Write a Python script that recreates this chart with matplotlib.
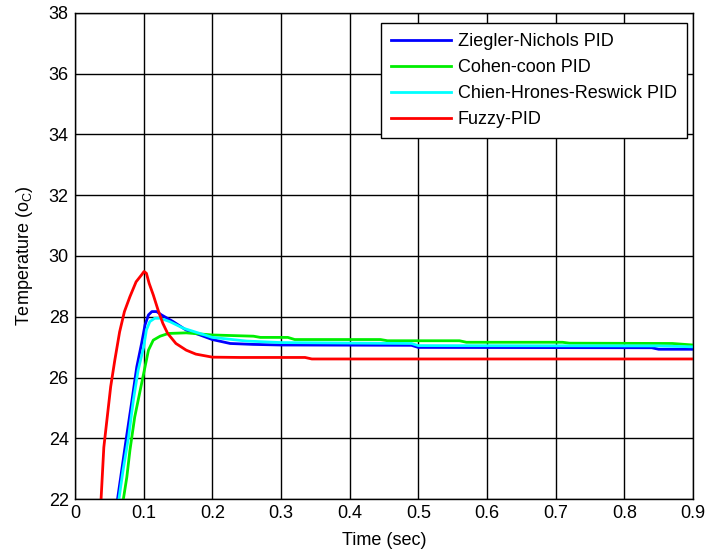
import matplotlib
matplotlib.use("Agg")
import matplotlib.pyplot as plt

plt.rcParams['font.family'] = ['Liberation Sans', 'DejaVu Sans']
plt.rcParams['mathtext.default'] = 'regular'

# Ziegler-Nichols PID
t_zn = [0.060, 0.062, 0.068, 0.075, 0.083, 0.090, 0.097, 0.102, 0.107, 0.112, 0.119,
        0.126, 0.143, 0.162, 0.182, 0.200, 0.226, 0.259, 0.300, 0.49, 0.50, 0.84, 0.85, 0.90]
y_zn = [21.5, 22.0, 22.94, 24.04, 25.25, 26.35, 27.12, 27.73, 28.06, 28.17, 28.17,
        28.06, 27.84, 27.56, 27.40, 27.25, 27.12, 27.09, 27.07, 27.06, 26.99, 26.98, 26.93, 26.93]

# Cohen-coon PID
t_cc = [0.069, 0.0705, 0.0755, 0.080, 0.087, 0.095, 0.102, 0.107, 0.114, 0.124, 0.136,
        0.162, 0.200, 0.260, 0.270, 0.310, 0.320, 0.445, 0.455, 0.56, 0.57, 0.71, 0.72,
        0.87, 0.90]
y_cc = [21.5, 22.0, 22.72, 23.6, 24.7, 25.58, 26.35, 26.9, 27.23, 27.36, 27.45,
        27.47, 27.40, 27.36, 27.32, 27.32, 27.25, 27.25, 27.21, 27.21, 27.16, 27.16, 27.13,
        27.12, 27.07]

# Chien-Hrones-Reswick PID
t_chr = [0.062, 0.064, 0.070, 0.078, 0.085, 0.092, 0.100, 0.104, 0.109, 0.116, 0.124,
         0.138, 0.158, 0.182, 0.200, 0.250, 0.300, 0.49, 0.50, 0.85, 0.90]
y_chr = [21.5, 22.0, 22.94, 24.04, 25.25, 26.24, 27.0, 27.56, 27.84, 27.95, 27.95,
         27.84, 27.62, 27.45, 27.32, 27.2, 27.15, 27.12, 27.05, 27.04, 27.01]

# Fuzzy-PID
t_fz = [0.036, 0.038, 0.042, 0.052, 0.058, 0.065, 0.072, 0.080, 0.089, 0.097, 0.1006,
        0.104, 0.108, 0.114, 0.121, 0.128, 0.135, 0.147, 0.162, 0.176, 0.200, 0.240,
        0.300, 0.335, 0.345, 0.900]
y_fz = [21.5, 22.0, 23.7, 25.7, 26.57, 27.5, 28.17, 28.66, 29.15, 29.38, 29.49,
        29.43, 29.1, 28.72, 28.22, 27.78, 27.45, 27.12, 26.9, 26.77, 26.67, 26.66,
        26.66, 26.66, 26.61, 26.61]

labels = ['Ziegler-Nichols PID', 'Cohen-coon PID', 'Chien-Hrones-Reswick PID', 'Fuzzy-PID']
colors = ['#0000ff', '#00ee00', '#00ffff', '#ff0000']
x_ticks = [0, 0.1, 0.2, 0.3, 0.4, 0.5, 0.6, 0.7, 0.8, 0.9]
x_ticklabels = ['0', '0.1', '0.2', '0.3', '0.4', '0.5', '0.6', '0.7', '0.8', '0.9']
y_ticks = [22, 24, 26, 28, 30, 32, 34, 36, 38]

fig = plt.figure(figsize=(7.06, 5.5), dpi=100)
ax = fig.add_axes([0.1062, 0.0927, 0.8754, 0.8837])

series = [(t_zn, y_zn), (t_cc, y_cc), (t_chr, y_chr), (t_fz, y_fz)]
for (t, y), lab, c in zip(series, labels, colors):
    ax.plot(t, y, color=c, lw=2.0, label=lab)

ax.set_xlim(0, 0.9)
ax.set_ylim(22, 38)
ax.set_xticks(x_ticks)
ax.set_xticklabels(x_ticklabels)
ax.set_yticks(y_ticks)
ax.grid(True, color='black', lw=1.0)
ax.set_axisbelow(True)
for s in ax.spines.values():
    s.set_color('black')
    s.set_linewidth(1.0)
ax.tick_params(direction='in', length=0, labelsize=13, pad=4.5, colors='black')
ax.set_xlabel('Time (sec)', fontsize=13, labelpad=7)
ax.set_ylabel('Temperature (o$_C$)', fontsize=13, labelpad=10)

leg = ax.legend(loc='upper right', bbox_to_anchor=(0.990, 0.979), fontsize=13,
                fancybox=False, framealpha=1, edgecolor='black', handlelength=3.3,
                borderpad=0.55, labelspacing=0.5, handletextpad=0.4, borderaxespad=0.0)
leg.get_frame().set_linewidth(1.0)

fig.savefig('out.png', dpi=100)
